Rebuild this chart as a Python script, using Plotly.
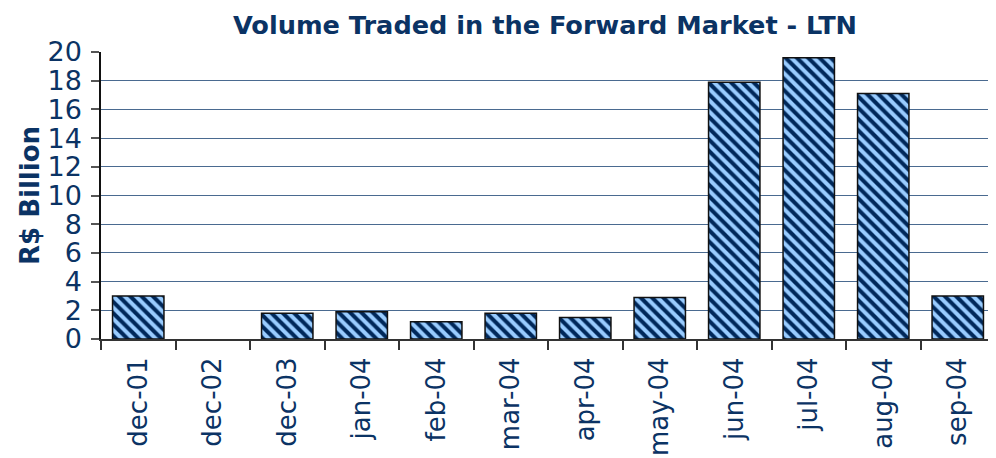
import plotly.graph_objects as go

categories = ["dec-01", "dec-02", "dec-03", "jan-04", "feb-04", "mar-04",
              "apr-04", "may-04", "jun-04", "jul-04", "aug-04", "sep-04"]
volume = [3.0, 0.0, 1.8, 1.9, 1.2, 1.8, 1.5, 2.9, 17.9, 19.6, 17.1, 3.0]
y_ticks = [0, 2, 4, 6, 8, 10, 12, 14, 16, 18, 20]

navy = "#0b3364"

fig = go.Figure(go.Bar(
    x=categories, y=volume,
    marker=dict(
        color="#99ccff",
        line=dict(color="#111111", width=[1.5 if v > 0 else 0 for v in volume]),
        pattern=dict(shape="\\", fgcolor="#00285a", bgcolor="#99ccff",
                     size=8, solidity=0.5, fillmode="replace"),
    ),
))

fig.update_layout(
    width=988, height=450,
    margin=dict(l=93, r=1, t=44, b=119),
    paper_bgcolor="white", plot_bgcolor="white",
    bargap=0.31,
    showlegend=False,
    font=dict(family="DejaVu Sans", color=navy),
    title=dict(text="<b>Volume Traded in the Forward Market - LTN</b>",
               x=0.5435, xanchor="center", y=0.981, yanchor="top",
               font=dict(size=25.6, color=navy, family="DejaVu Sans")),
)

fig.update_xaxes(
    type="category", tickangle=-90, tickson="boundaries",
    ticks="outside", ticklen=9, tickcolor="#333333", tickwidth=1.5,
    showline=True, linecolor="#333333", linewidth=2,
    tickfont=dict(size=26, color=navy, family="DejaVu Sans"),
    ticklabelstandoff=6,
    showgrid=False, automargin=False,
)
fig.update_yaxes(
    range=[0, 20], tickvals=y_ticks,
    ticks="outside", ticklen=8, tickcolor="#555555", tickwidth=1.5,
    showline=True, linecolor="#111111", linewidth=1.5,
    showgrid=True, gridcolor="#4a6a90", gridwidth=1,
    tickfont=dict(size=27, color=navy, family="DejaVu Sans"),
    ticklabelstandoff=4,
    title=dict(text="<b>R$ Billion</b>", standoff=0,
               font=dict(size=26, color=navy, family="DejaVu Sans")),
    zeroline=False, automargin=False,
)

fig.write_html("out.html")
